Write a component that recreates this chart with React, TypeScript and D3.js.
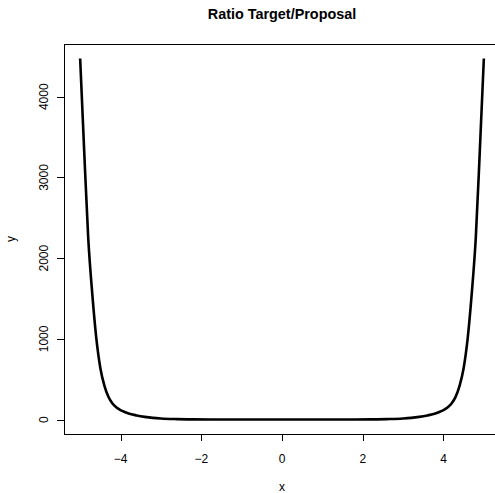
import React from "react";
import * as d3 from "d3";

// Ratio of target density to proposal density, sampled along x
const xValues = [
  -5.0, -4.9, -4.8, -4.7, -4.6, -4.5, -4.4, -4.3, -4.2, -4.1, -4.0, -3.9, -3.8,
  -3.6, -3.4, -3.2, -3.0, -2.6, -2.2, -1.8, -1.2, -0.6, 0.0,
  0.6, 1.2, 1.8, 2.2, 2.6, 3.0, 3.2, 3.4, 3.6, 3.8, 3.9, 4.0, 4.1, 4.2, 4.3,
  4.4, 4.5, 4.6, 4.7, 4.8, 4.9, 5.0,
];
const yValues = [
  4475, 3330, 2250, 1560, 1010, 640, 420, 282, 200, 150, 118, 95, 76,
  52, 34, 21, 13, 6, 3, 1.8, 0.9, 0.6, 0.5,
  0.6, 0.9, 1.8, 3, 6, 13, 21, 34, 52, 76, 95, 118, 150, 200, 282,
  420, 640, 1010, 1560, 2250, 3330, 4475,
];
const xTicks = [-4, -2, 0, 2, 4];
const yTicks = [0, 1000, 2000, 3000, 4000];

const title = "Ratio Target/Proposal";
const xLabel = "x";
const yLabel = "y";

const W = 495;
const H = 493;
const left = 64;
const right = 500;
const top = 44;
const bottom = 434;

// R-style 4% padding around the data range
function padded(ext: [number, number]): [number, number] {
  const r = ext[1] - ext[0];
  return [ext[0] - 0.04 * r, ext[1] + 0.04 * r];
}

export default function App() {
  const xExt = d3.extent(xValues) as [number, number];
  const yExt = d3.extent(yValues) as [number, number];
  const x = d3.scaleLinear().domain(padded(xExt)).range([left, right]);
  const y = d3.scaleLinear().domain(padded(yExt)).range([bottom, top]);

  const pts = xValues.map((v, i) => [v, yValues[i]] as [number, number]);
  const line = d3
    .line<[number, number]>()
    .x((d) => x(d[0]))
    .y((d) => y(d[1]))
    .curve(d3.curveMonotoneX);

  const font = "'Liberation Sans', Arial, Helvetica, sans-serif";
  const tick = 7;

  return (
    <svg
      width={W}
      height={H}
      style={{ position: "absolute", left: 0, top: 0, background: "#fff" }}
      fontFamily={font}
    >
      <rect x={0} y={0} width={W} height={H} fill="#fff" />
      <text
        x={(left + right) / 2}
        y={19}
        textAnchor="middle"
        fontSize={14.4}
        fontWeight="bold"
      >
        {title}
      </text>

      <path d={line(pts) || ""} fill="none" stroke="#000" strokeWidth={2.6} strokeLinejoin="round" />

      <rect
        x={left + 0.5}
        y={top + 0.5}
        width={right - left}
        height={bottom - top}
        fill="none"
        stroke="#000"
        strokeWidth={1}
      />

      {/* x axis */}
      <line
        x1={x(xTicks[0])}
        x2={x(xTicks[xTicks.length - 1])}
        y1={bottom + 0.5}
        y2={bottom + 0.5}
        stroke="#000"
      />
      {xTicks.map((t) => (
        <g key={"xt" + t}>
          <line
            x1={Math.round(x(t)) + 0.5}
            x2={Math.round(x(t)) + 0.5}
            y1={bottom}
            y2={bottom + tick}
            stroke="#000"
          />
          <text x={x(t)} y={462.5} textAnchor="middle" fontSize={12}>
            {t < 0 ? "\u2212" + Math.abs(t) : String(t)}
          </text>
        </g>
      ))}

      {/* y axis */}
      <line
        x1={left + 0.5}
        x2={left + 0.5}
        y1={y(yTicks[0])}
        y2={y(yTicks[yTicks.length - 1])}
        stroke="#000"
      />
      {yTicks.map((t) => (
        <g key={"yt" + t}>
          <line
            x1={left}
            x2={left - tick}
            y1={Math.round(y(t)) + 0.5}
            y2={Math.round(y(t)) + 0.5}
            stroke="#000"
          />
          <text
            transform={`translate(47.5,${y(t)}) rotate(-90)`}
            textAnchor="middle"
            fontSize={12}
          >
            {String(t)}
          </text>
        </g>
      ))}

      <text x={(left + right) / 2} y={491} textAnchor="middle" fontSize={12}>
        {xLabel}
      </text>
      <text
        transform={`translate(15,${(top + bottom) / 2}) rotate(-90)`}
        textAnchor="middle"
        fontSize={12}
      >
        {yLabel}
      </text>
    </svg>
  );
}
